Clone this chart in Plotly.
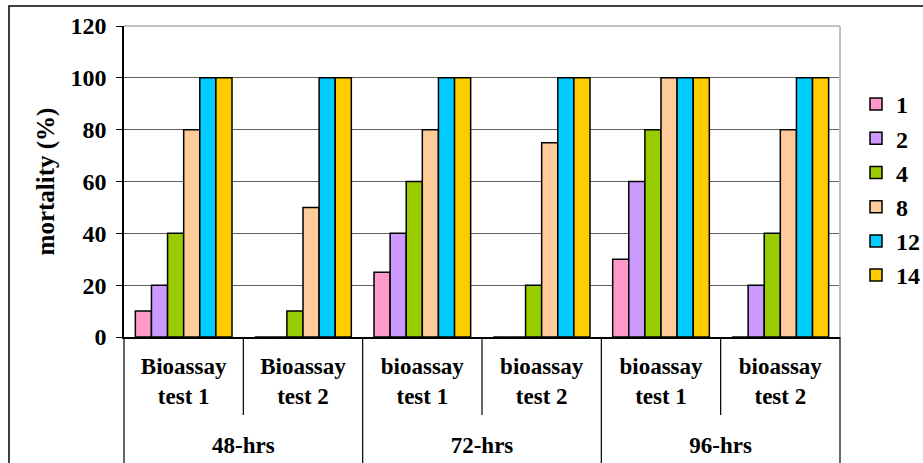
import plotly.graph_objects as go

periods = ["48-hrs", "48-hrs", "72-hrs", "72-hrs", "96-hrs", "96-hrs"]
tests = ["Bioassay<br>test 1", "Bioassay<br>test 2", "bioassay<br>test 1",
         "bioassay<br>test 2", "bioassay<br>test 1", "bioassay<br>test 2"]

series_names = ["1", "2", "4", "8", "12", "14"]
s1 = [10, 0, 25, 0, 30, 0]
s2 = [20, 0, 40, 0, 60, 20]
s4 = [40, 10, 60, 20, 80, 40]
s8 = [80, 50, 80, 75, 100, 80]
s12 = [100, 100, 100, 100, 100, 100]
s14 = [100, 100, 100, 100, 100, 100]
series_values = [s1, s2, s4, s8, s12, s14]
colors = ["#FF99CC", "#CC99FF", "#99CC00", "#FFCC99", "#00CCFF", "#FFCC00"]

y_ticks = [0, 20, 40, 60, 80, 100, 120]

FONT = "Liberation Serif, Times New Roman, serif"

W, H = 923, 463
ml, mr, mt, mb = 124, 83, 26, 126
pw, ph = W - ml - mr, H - mt - mb

# outer labels get an empty first line so they sit lower, as in the original
outer_labels = [" <br>" + p for p in periods]

fig = go.Figure()
for name, vals, col in zip(series_names, series_values, colors):
    fig.add_trace(go.Bar(
        x=[outer_labels, tests], y=vals, name=name, legendgroup=name,
        marker=dict(color=col, line=dict(color="black", width=1.5)),
    ))

def px_x(p):
    return (p - ml) / pw

def px_y(p):
    return (H - mb - p) / ph

shapes = []
# outer chart frame
shapes.append(dict(type="rect", xref="paper", yref="paper",
                   x0=px_x(9), x1=px_x(W + 20), y0=px_y(H + 20), y1=px_y(6),
                   line=dict(color="black", width=1.5), fillcolor="rgba(0,0,0,0)",
                   layer="above"))
# plot area light border top/right
shapes.append(dict(type="line", xref="paper", yref="paper", x0=0, x1=1, y0=1, y1=1,
                   line=dict(color="#c0c0c0", width=2)))
shapes.append(dict(type="line", xref="paper", yref="paper", x0=1, x1=1, y0=0, y1=1,
                   line=dict(color="#c0c0c0", width=2)))
# category dividers below the axis
n = len(tests)
for k in range(n + 1):
    outer = (k == 0) or (k == n) or (periods[k - 1] != periods[k])
    shapes.append(dict(type="line", xref="paper", yref="paper",
                       x0=k / n, x1=k / n, y0=0,
                       y1=px_y(H + 20) if outer else px_y(415),
                       line=dict(color="black", width=1.2)))

fig.update_layout(
    width=W, height=H,
    margin=dict(l=ml, r=mr, t=mt, b=mb, pad=0, autoexpand=False),
    paper_bgcolor="white", plot_bgcolor="white",
    font=dict(family=FONT, size=24, color="black", weight="bold"),
    barmode="group", bargap=0.19, bargroupgap=0,
    shapes=shapes,
    legend=dict(x=px_x(856), y=px_y(82), xanchor="left", yanchor="top",
                font=dict(size=24, family=FONT, weight="bold"),
                bgcolor="rgba(0,0,0,0)", tracegroupgap=0),
    xaxis=dict(type="multicategory", showline=True, linecolor="black", linewidth=1.5,
               ticks="", showdividers=False, ticklabelstandoff=8,
               tickfont=dict(size=23, family=FONT, weight="bold")),
    yaxis=dict(range=[0, 120], tickvals=y_ticks, showline=True, linecolor="black",
               linewidth=1.5, ticks="outside", ticklen=6, tickcolor="black",
               gridcolor="#606060", gridwidth=1, zeroline=False, ticklabelstandoff=5,
               tickfont=dict(size=24, family=FONT, weight="bold"),
               title=dict(text="mortality (%)", standoff=9,
                          font=dict(size=25, family=FONT, weight="bold"))),
)

fig.write_html("out.html")
